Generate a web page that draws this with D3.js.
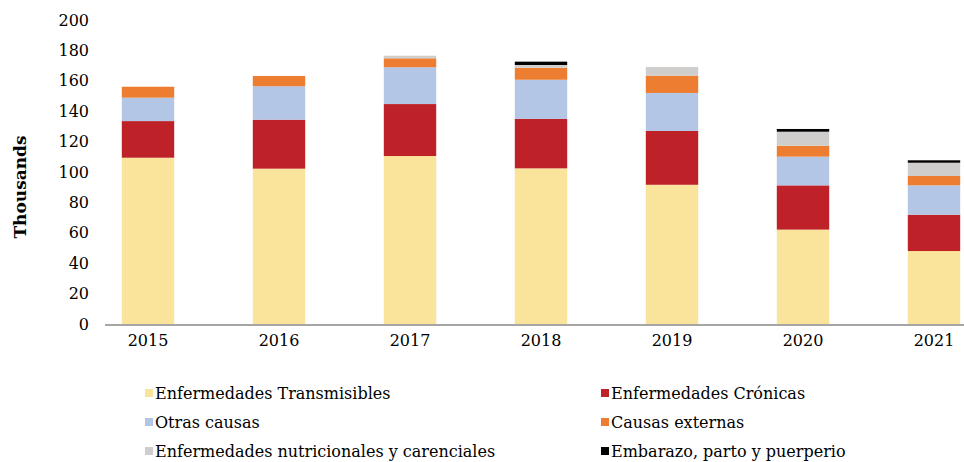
<!DOCTYPE html>
<html>
<head>
<meta charset="utf-8">
<script src="https://cdn.jsdelivr.net/npm/d3@7.9.0/dist/d3.min.js"></script>
<style>
  html, body { margin: 0; padding: 0; background: #fff; }
  svg { display: block; font-family: "DejaVu Serif", serif; }
</style>
</head>
<body>
<svg id="chart" width="964" height="462"></svg>
<script>
// Data (thousands)
const years = ['2015', '2016', '2017', '2018', '2019', '2020', '2021'];
const transmisibles = [109.4, 102.2, 110.5, 102.4, 91.6, 62.1, 48.0];
const cronicas      = [24.1, 32.2, 34.2, 32.5, 35.4, 29.1, 23.9];
const otras         = [15.4, 22.0, 24.2, 25.8, 25.0, 18.9, 19.3];
const externas      = [7.2, 6.8, 5.9, 7.9, 11.4, 7.2, 6.2];
const nutricionales = [0, 0, 1.7, 1.8, 5.7, 9.2, 8.7];
const embarazo      = [0, 0, 0, 2.2, 0, 1.8, 1.6];
const seriesNames = [
  'Enfermedades Transmisibles', 'Enfermedades Crónicas', 'Otras causas',
  'Causas externas', 'Enfermedades nutricionales y carenciales', 'Embarazo, parto y puerperio'
];
const yTicks = [0, 20, 40, 60, 80, 100, 120, 140, 160, 180, 200];

const colors = ['#fae39a', '#be2128', '#b4c6e6', '#ed7d31', '#d0cecd', '#000000'];
const values = [transmisibles, cronicas, otras, externas, nutricionales, embarazo];

const table = years.map((y, i) => {
  const row = { year: y };
  seriesNames.forEach((s, k) => { row[s] = values[k][i]; });
  return row;
});

const width = 964, height = 462;
const svg = d3.select('#chart');

const x = d3.scaleBand().domain(years).range([82.5, 999.5]).paddingInner(0.6).paddingOuter(0.3);
const y = d3.scaleLinear().domain([0, 200]).range([324, 20]);

const stacked = d3.stack().keys(seriesNames)(table);

// Bars
svg.append('g')
  .selectAll('g')
  .data(stacked)
  .join('g')
  .attr('fill', (d, i) => colors[i])
  .selectAll('rect')
  .data(d => d)
  .join('rect')
  .attr('x', d => x(d.data.year))
  .attr('y', d => y(d[1]))
  .attr('width', x.bandwidth())
  .attr('height', d => y(d[0]) - y(d[1]));

// Y axis labels
const yAxis = svg.append('g')
  .attr('transform', 'translate(90,0)')
  .call(d3.axisLeft(y).tickValues(yTicks).tickSize(0).tickPadding(1));
yAxis.select('.domain').remove();
yAxis.selectAll('text')
  .attr('font-family', '"DejaVu Serif", serif')
  .attr('font-size', 16)
  .attr('fill', '#000');

// X axis
const xAxis = svg.append('g')
  .attr('transform', 'translate(0,325)')
  .call(d3.axisBottom(x).tickSize(0).tickPadding(10));
xAxis.select('.domain').remove();
xAxis.selectAll('text')
  .attr('font-family', '"DejaVu Serif", serif')
  .attr('font-size', 16)
  .attr('fill', '#000');
svg.append('line')
  .attr('x1', 105).attr('x2', width)
  .attr('y1', 325).attr('y2', 325)
  .attr('stroke', '#898989')
  .attr('stroke-width', 1.5);

// Y title
svg.append('text')
  .attr('transform', 'translate(26,187) rotate(-90)')
  .attr('text-anchor', 'middle')
  .attr('font-weight', 'bold')
  .attr('font-size', 17)
  .text('Thousands');

// Legend
const legendPos = [[145, 393], [601, 393], [145, 422], [601, 422], [145, 451], [601, 451]];
const legend = svg.append('g')
  .selectAll('g')
  .data(seriesNames)
  .join('g')
  .attr('transform', (d, i) => `translate(${legendPos[i][0]},${legendPos[i][1]})`);
legend.append('rect')
  .attr('x', 0).attr('y', -4)
  .attr('width', 8).attr('height', 8)
  .attr('fill', (d, i) => colors[i]);
legend.append('text')
  .attr('x', 10)
  .attr('dy', '0.35em')
  .attr('font-size', 16)
  .text(d => d);
</script>
</body>
</html>
